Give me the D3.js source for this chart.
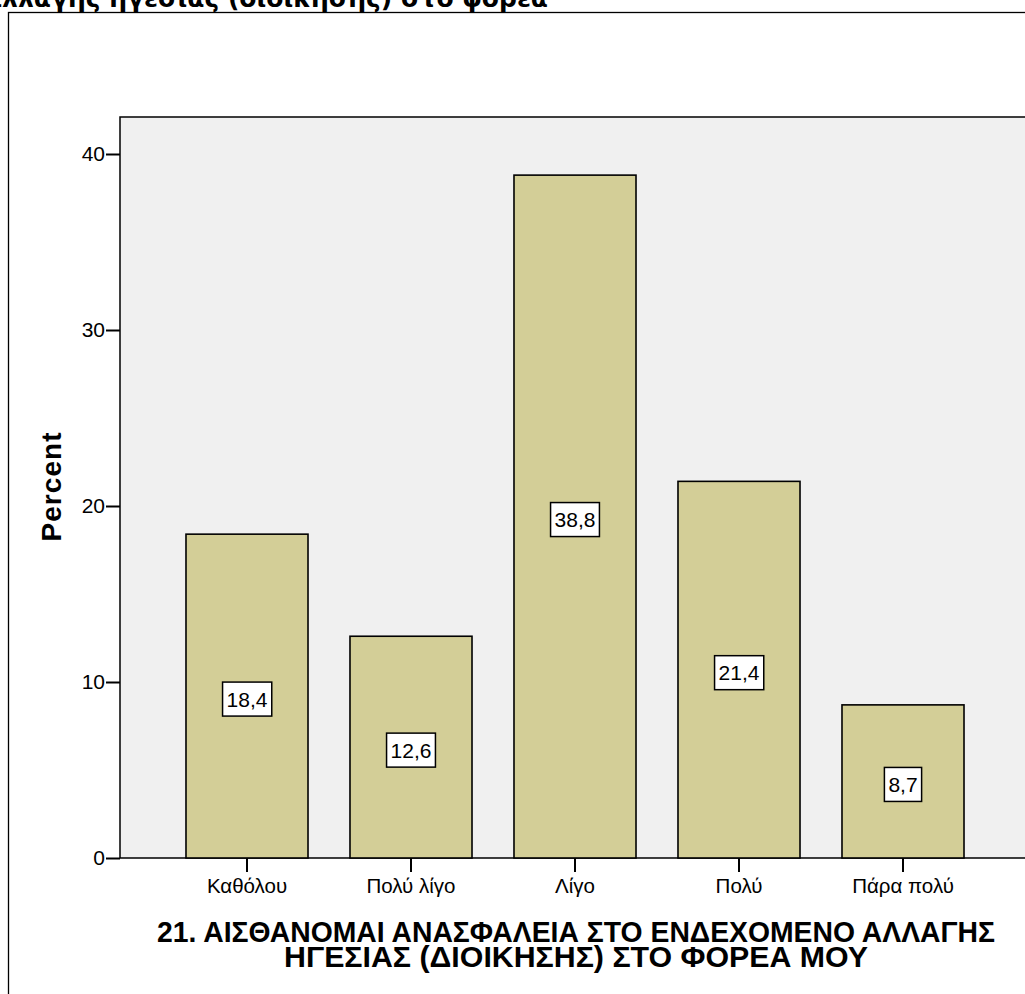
<!DOCTYPE html>
<html>
<head>
<meta charset="utf-8">
<script src="https://cdn.jsdelivr.net/npm/d3@7"></script>
<style>
  html, body { margin: 0; padding: 0; background: #fff; overflow: hidden; }
  svg { display: block; }
</style>
</head>
<body>
<svg id="chart" width="1025" height="994"></svg>
<script>
// Response categories and percentages
const categories = ["Καθόλου", "Πολύ λίγο", "Λίγο", "Πολύ", "Πάρα πολύ"];
const percents = [18.4, 12.6, 38.8, 21.4, 8.7];
const percentLabels = ["18,4", "12,6", "38,8", "21,4", "8,7"];
const yTicks = [0, 10, 20, 30, 40];
const titleText = "αλλαγής ηγεσίας (διοίκησης) στο φορέα";
const xTitleLines = ["21. ΑΙΣΘΑΝΟΜΑΙ ΑΝΑΣΦΑΛΕΙΑ ΣΤΟ ΕΝΔΕΧΟΜΕΝΟ ΑΛΛΑΓΗΣ",
                     "ΗΓΕΣΙΑΣ (ΔΙΟΙΚΗΣΗΣ) ΣΤΟ ΦΟΡΕΑ ΜΟΥ"];
const yTitle = "Percent";

const data = categories.map((c, i) => ({ cat: c, value: percents[i], label: percentLabels[i] }));

const svg = d3.select("#chart");
const font = "'Liberation Sans', Arial, sans-serif";

// Outer frame
svg.append("rect")
  .attr("x", 8.5).attr("y", 12.5)
  .attr("width", 1100).attr("height", 1100)
  .attr("fill", "#fff").attr("stroke", "#000").attr("stroke-width", 1.3);

// Title (its upper part runs off the page top)
svg.append("text")
  .attr("x", 548).attr("y", 7)
  .attr("text-anchor", "end")
  .attr("font-family", "'DejaVu Sans', sans-serif")
  .attr("font-weight", "bold")
  .attr("font-size", 25)
  .attr("fill", "#000")
  .text(titleText);

// Plot area
const plot = { left: 120, top: 117, right: 1029, bottom: 858 };

const y = d3.scaleLinear().domain([0, 40]).range([858, 154]);
const x = d3.scaleBand()
  .domain(categories)
  .range([165, 985])
  .paddingInner(0.256)
  .paddingOuter(0.128);

svg.append("rect")
  .attr("x", plot.left).attr("y", plot.top)
  .attr("width", plot.right - plot.left).attr("height", plot.bottom - plot.top)
  .attr("fill", "#f0f0f0")
  .attr("stroke", "#000").attr("stroke-width", 1.5);

// Bars
svg.append("g").selectAll("rect")
  .data(data)
  .join("rect")
  .attr("x", d => x(d.cat))
  .attr("y", d => y(d.value))
  .attr("width", x.bandwidth())
  .attr("height", d => y(0) - y(d.value))
  .attr("fill", "#d3ce97")
  .attr("stroke", "#000")
  .attr("stroke-width", 1.6);

// Value labels in boxes
const labels = svg.append("g").selectAll("g")
  .data(data)
  .join("g")
  .attr("transform", d => `translate(${x(d.cat) + x.bandwidth() / 2},${y(d.value / 2) + 3})`);

labels.append("text")
  .attr("text-anchor", "middle")
  .attr("dy", "0.36em")
  .attr("font-family", font)
  .attr("font-size", 21)
  .attr("fill", "#000")
  .text(d => d.label);

labels.each(function () {
  const g = d3.select(this);
  const bb = g.select("text").node().getBBox();
  g.insert("rect", "text")
    .attr("x", bb.x - 4).attr("y", -17)
    .attr("width", bb.width + 8).attr("height", 34)
    .attr("fill", "#fff")
    .attr("stroke", "#000").attr("stroke-width", 1.5);
});

// Y axis
const yAxis = svg.append("g")
  .attr("transform", `translate(${plot.left},0)`)
  .call(d3.axisLeft(y).tickValues(yTicks).tickSize(14).tickSizeOuter(0).tickPadding(1));
yAxis.select(".domain").remove();
yAxis.selectAll(".tick line").attr("stroke", "#000").attr("stroke-width", 2);
yAxis.selectAll(".tick text")
  .attr("font-family", font).attr("font-size", 21).attr("fill", "#000");

// X axis
const xAxis = svg.append("g")
  .attr("transform", `translate(0,${plot.bottom})`)
  .call(d3.axisBottom(x).tickSize(14).tickSizeOuter(0).tickPadding(6));
xAxis.select(".domain").remove();
xAxis.selectAll(".tick line").attr("stroke", "#000").attr("stroke-width", 2);
xAxis.selectAll(".tick text")
  .attr("font-family", font).attr("font-size", 20.5).attr("fill", "#000");

// Axis titles
svg.append("text")
  .attr("transform", "translate(61,487) rotate(-90)")
  .attr("text-anchor", "middle")
  .attr("font-family", font).attr("font-weight", "bold")
  .attr("font-size", 28)
  .attr("textLength", 109).attr("lengthAdjust", "spacing")
  .attr("fill", "#000")
  .text(yTitle);

// Two-line, tightly set x-axis title (one text element, one tspan per line)
const xTitleWidths = [838, 584];
const xTitleScaleY = 1.12;
const xTitle = svg.append("text")
  .attr("transform", `translate(576,942) scale(1,${xTitleScaleY})`)
  .attr("text-anchor", "middle")
  .attr("font-family", font).attr("font-weight", "bold")
  .attr("font-size", 26)
  .attr("fill", "#000");
xTitleLines.forEach((line, i) => {
  xTitle.append("tspan")
    .attr("x", 0)
    .attr("y", i * 25 / xTitleScaleY)
    .attr("textLength", xTitleWidths[i]).attr("lengthAdjust", "spacingAndGlyphs")
    .text(line);
});
</script>
</body>
</html>
